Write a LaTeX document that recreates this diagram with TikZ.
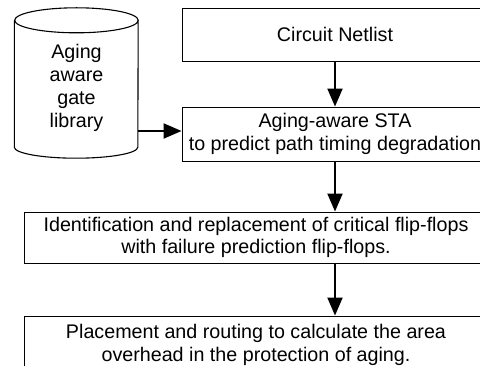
\documentclass[tikz,border=0pt]{standalone}
\usepackage{fontspec}
\setmainfont{Liberation Sans}
\usetikzlibrary{arrows.meta}

\begin{document}
\begin{tikzpicture}[x=1pt, y=-1pt]
\tikzset{BoxStyle/.style =
    {draw, shape=rectangle, line width=0.9pt, inner sep=0pt, align=center,
     font=\fontsize{19.7}{22.6}\selectfont}
}
\tikzset{LibStyle/.style = {shape=rectangle, inner sep=0pt, minimum width=123.5pt, minimum height=126.5pt}}
\tikzset{LibTextStyle/.style = {align=center, inner sep=0pt, font=\fontsize{19.7}{23}\selectfont}}
\tikzset{CylStyle/.style = {draw, line width=1.1pt}}
\tikzset{EdgeStyle/.style = {line width=2pt, -{Triangle[width=15pt, length=18pt]}}}
\clip (0,0) rectangle (480,366);
% gate library drum
\node[LibStyle] (flow-lib) at (76.25,83.75) {};
\draw[CylStyle] (flow-lib.north west) -- (flow-lib.south west)
    arc[start angle=180, end angle=360, x radius=61.75pt, y radius=11pt]
    -- (flow-lib.north east)
    arc[start angle=0, end angle=360, x radius=61.75pt, y radius=12.5pt];
\node[LibTextStyle] (flow-lib-text) at (76.5,87.5) {Aging\\aware\\gate\\library};
% flow boxes
\node[BoxStyle, minimum width=306pt, minimum height=53pt] (flow-netlist) at (335,34.5) {Circuit Netlist};
\node[BoxStyle, minimum width=306pt, minimum height=54pt] (flow-sta) at (335,134)
    {Aging-aware STA\\to predict path timing degradation};
\node[BoxStyle, minimum width=464pt, minimum height=51pt] (flow-replace) at (256,237.5)
    {Identification and replacement of critical flip-flops\\with failure prediction flip-flops.};
\node[BoxStyle, minimum width=464pt, minimum height=58pt] (flow-place) at (256,345)
    {Placement and routing to calculate the area\\overhead in the protection of aging.};
\draw[EdgeStyle] (flow-netlist) to (flow-sta);
\draw[EdgeStyle] ([yshift=3pt]flow-lib.east |- flow-sta.west) to ([yshift=3pt]flow-sta.west);
\draw[EdgeStyle] (flow-sta.south) to (flow-sta.south |- flow-replace.north);
\draw[EdgeStyle] (flow-sta.south |- flow-replace.south) to (flow-sta.south |- flow-place.north);
\end{tikzpicture}
\end{document}
